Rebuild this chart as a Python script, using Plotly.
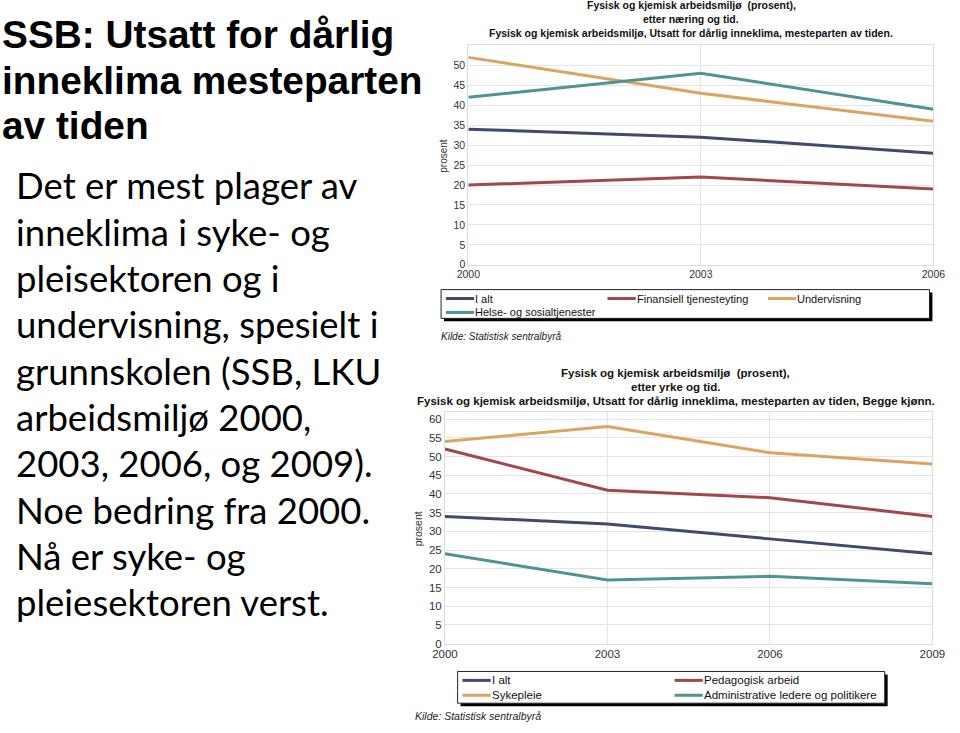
import plotly.graph_objects as go

W, H = 960, 733

# ---------------- data ----------------
years1 = [2000, 2003, 2006]
series1_names = ["I alt", "Finansiell tjenesteyting", "Undervisning", "Helse- og sosialtjenester"]
ialt1 = [34, 32, 28]
finans1 = [20, 22, 19]
underv1 = [52, 43, 36]
helse1 = [42, 48, 39]

years2 = [2000, 2003, 2006, 2009]
series2_names = ["I alt", "Pedagogisk arbeid", "Sykepleie", "Administrative ledere og politikere"]
ialt2 = [34, 32, 28, 24]
pedag2 = [52, 41, 39, 34]
syke2 = [54, 58, 51, 48]
admin2 = [24, 17, 18, 16]

yticks1 = list(range(0, 55, 5))
yticks2 = list(range(0, 65, 5))

title_lines = ["SSB: Utsatt for dårlig", "inneklima mesteparten", "av tiden"]
body_lines = [
    "Det er mest plager av",
    "inneklima i syke- og",
    "pleisektoren og i",
    "undervisning, spesielt i",
    "grunnskolen (SSB, LKU",
    "arbeidsmiljø 2000,",
    "2003, 2006, og 2009).",
    "Noe bedring fra 2000.",
    "Nå er syke- og",
    "pleiesektoren verst.",
]
chart1_title = ["Fysisk og kjemisk arbeidsmiljø  (prosent),", "etter næring og tid.",
                "Fysisk og kjemisk arbeidsmiljø, Utsatt for dårlig inneklima, mesteparten av tiden."]
chart2_title = ["Fysisk og kjemisk arbeidsmiljø  (prosent),", "etter yrke og tid.",
                "Fysisk og kjemisk arbeidsmiljø, Utsatt for dårlig inneklima, mesteparten av tiden, Begge kjønn."]
source = "Kilde: Statistisk sentralbyrå"
ylabel = "prosent"

NAVY, RED, TAN, TEAL = "#3f4a6c", "#a2474d", "#dba461", "#4f9490"
colors = [NAVY, RED, TAN, TEAL]
ARIAL = "Liberation Sans"


def px(x):
    return x / W


def py(y):
    return 1 - y / H


fig = go.Figure()
for name, vals, c in zip(series1_names, [ialt1, finans1, underv1, helse1], colors):
    fig.add_trace(go.Scatter(x=years1, y=vals, mode="lines", name=name,
                             line=dict(color=c, width=3), xaxis="x", yaxis="y", showlegend=False))
for name, vals, c in zip(series2_names, [ialt2, pedag2, syke2, admin2], colors):
    fig.add_trace(go.Scatter(x=years2, y=vals, mode="lines", name=name,
                             line=dict(color=c, width=3), xaxis="x2", yaxis="y2", showlegend=False))

axcommon = dict(showgrid=True, gridcolor="#e4e4e4", gridwidth=1, zeroline=False,
                showline=True, linecolor="#dddddd", mirror=True, ticks="")

fig.update_layout(
    width=W, height=H, margin=dict(l=0, r=0, t=0, b=0),
    paper_bgcolor="white", plot_bgcolor="white", showlegend=False,
    xaxis=dict(domain=[px(468), px(946)], range=[2000, 2006], tickvals=years1,
               ticktext=[str(y) for y in years1], anchor="y",
               tickfont=dict(family=ARIAL, size=10.5, color="#333"), **axcommon),
    yaxis=dict(domain=[py(267), py(45)], range=[0, 55.2], tickvals=yticks1, anchor="x",
               tickfont=dict(family=ARIAL, size=10.5, color="#333"), **axcommon),
    xaxis2=dict(domain=[px(444), px(945)], range=[2000, 2009], tickvals=years2,
                ticktext=[str(y) for y in years2], anchor="y2",
                tickfont=dict(family=ARIAL, size=11.5, color="#333"), **axcommon),
    yaxis2=dict(domain=[py(649), py(415)], range=[0, 62], tickvals=yticks2, anchor="x2",
                tickfont=dict(family=ARIAL, size=11.5, color="#333"), **axcommon),
)

ann = []
shapes = []


def left_text(x, y, text, font, width):
    ann.append(dict(x=px(x), y=py(y), text=text, xanchor="left", yanchor="middle", align="left",
                    width=width, borderpad=0, font=font, showarrow=False))


# left text
for i, t in enumerate(title_lines):
    left_text(-12, 35 + i * 46, "<b>" + t + "</b>", dict(family=ARIAL, size=38.8, color="black"), 460)
for i, t in enumerate(body_lines):
    left_text(2, 187 + i * 46.7, t, dict(family="Lato", size=36.5, color="black"), 440)

# chart titles
for i, t in enumerate(chart1_title):
    ann.append(dict(x=px(697), y=py(5 + i * 14), text="<b>" + t + "</b>", xanchor="center", yanchor="middle",
                    font=dict(family=ARIAL, size=10.5, color="#111"), showarrow=False))
for i, t in enumerate(chart2_title):
    ann.append(dict(x=px(681), y=py(376 + i * 14), text="<b>" + t + "</b>", xanchor="center", yanchor="middle",
                    font=dict(family=ARIAL, size=11.5, color="#111"), showarrow=False))

# y labels
ann.append(dict(x=px(443), y=py(157), text=ylabel, textangle=-90, xanchor="center", yanchor="middle",
                font=dict(family=ARIAL, size=10, color="#333"), showarrow=False))
ann.append(dict(x=px(416), y=py(533), text=ylabel, textangle=-90, xanchor="center", yanchor="middle",
                font=dict(family=ARIAL, size=10.5, color="#333"), showarrow=False))


# legends
def legend(box, cols, names, cols_x, rows_y, fsize):
    x0, y0, x1, y1 = box
    shapes.append(dict(type="rect", xref="paper", yref="paper", x0=px(x0 + 3), x1=px(x1 + 3),
                       y0=py(y1 + 3), y1=py(y0 + 3), fillcolor="black", line=dict(width=0)))
    shapes.append(dict(type="rect", xref="paper", yref="paper", x0=px(x0), x1=px(x1),
                       y0=py(y1), y1=py(y0), fillcolor="white", line=dict(color="#222", width=1)))
    for k, (n, c) in enumerate(zip(names, colors)):
        cx = cols_x[k % cols]
        ry = rows_y[k // cols]
        shapes.append(dict(type="line", xref="paper", yref="paper", x0=px(cx), x1=px(cx + 29),
                           y0=py(ry), y1=py(ry), line=dict(color=c, width=3)))
        left_text(cx + 29, ry, n, dict(family=ARIAL, size=fsize, color="#111"), 220)


legend((440, 292, 942, 321), 3, series1_names, [445, 611, 776], [301, 315], 11)
legend((457, 677, 896, 709), 2, series2_names, [462, 680], [686, 701], 11.5)

left_text(439, 339, "<i>" + source + "</i>", dict(family=ARIAL, size=10, color="#222"), 200)
left_text(412, 722, "<i>" + source + "</i>", dict(family=ARIAL, size=10.5, color="#222"), 200)

for a in ann:
    a.setdefault("xref", "paper")
    a.setdefault("yref", "paper")
fig.update_layout(annotations=ann, shapes=shapes)

fig.write_html("out.html")
